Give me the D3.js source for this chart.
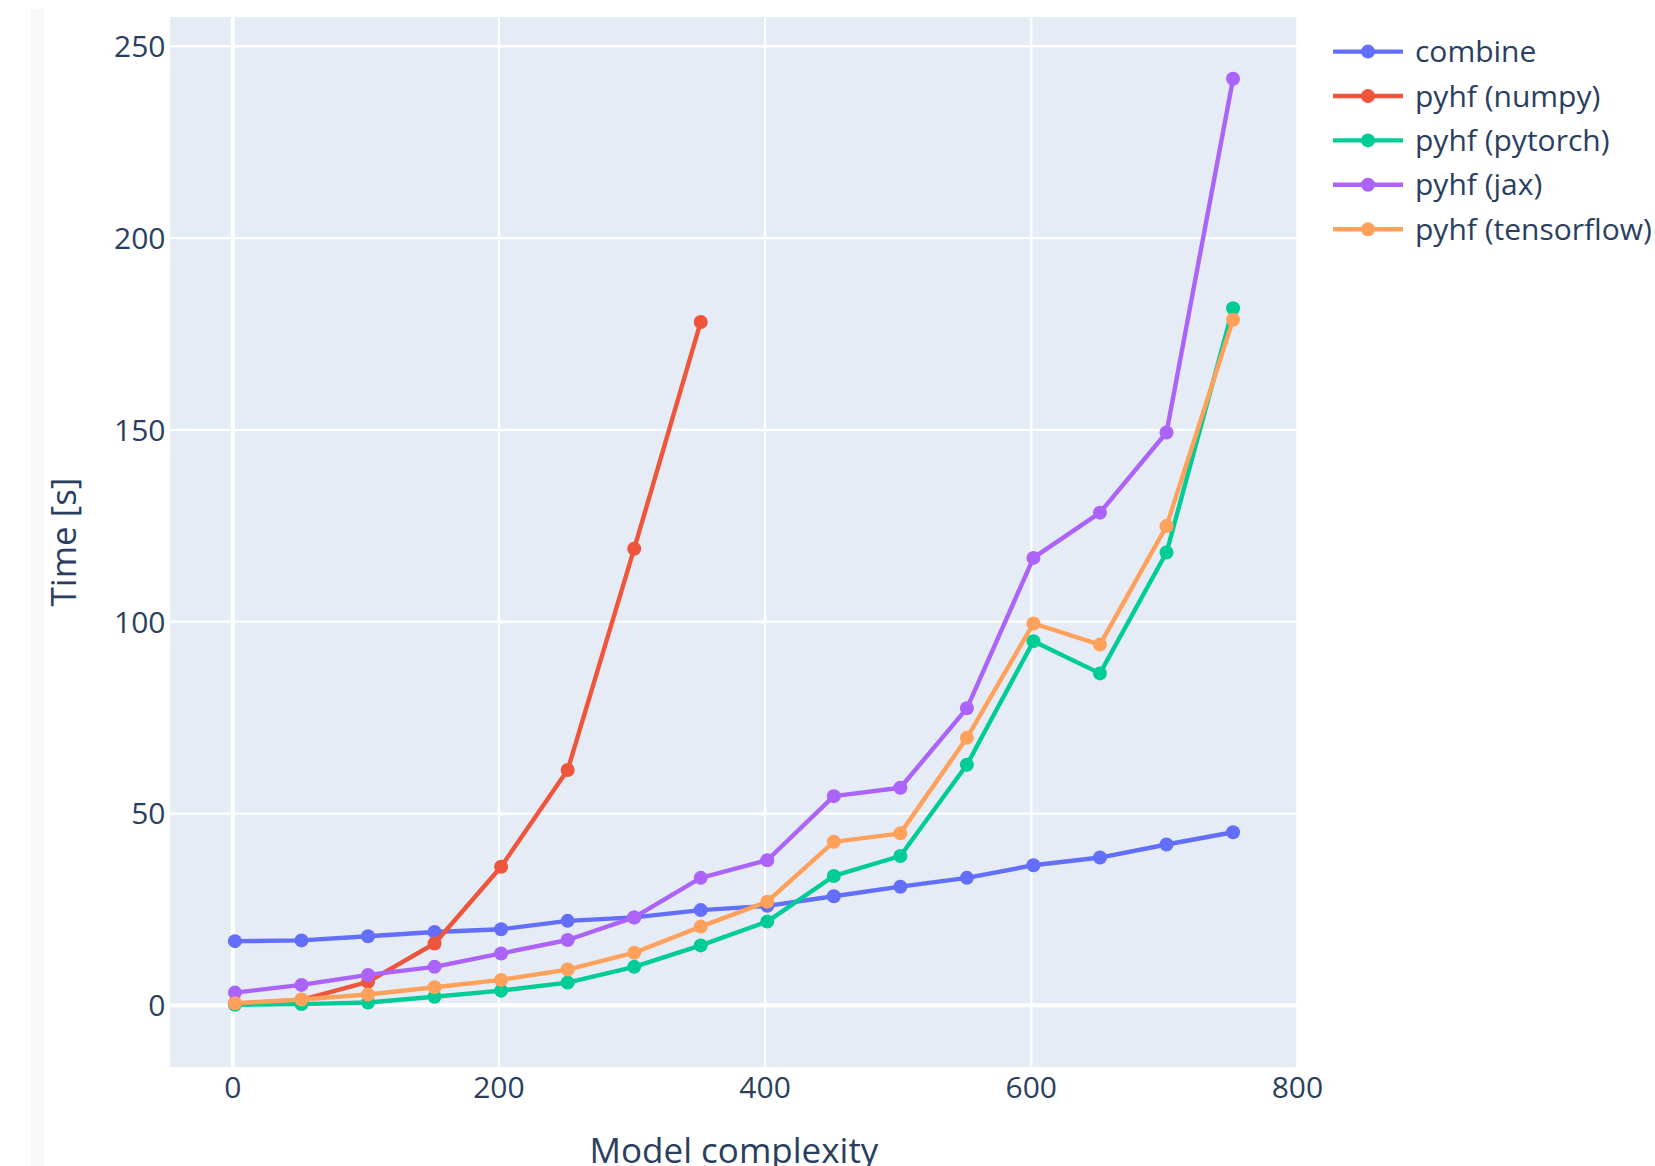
<!DOCTYPE html>
<html>
<head>
<meta charset="utf-8">
<script src="https://cdn.jsdelivr.net/npm/d3@7"></script>
<style>
  html, body { margin: 0; padding: 0; background: #fff; }
  svg { display: block; }
  text { font-family: "Open Sans", verdana, arial, sans-serif; fill: #2a3f5f; }
</style>
</head>
<body>
<svg id="chart" width="1655" height="1166"></svg>
<script>
// Benchmark: fit time versus model complexity for each backend
const complexity = [2, 52, 102, 152, 202, 252, 302, 352, 402, 452, 502, 552, 602, 652, 702, 752];
const combineTimes    = [16.6, 16.8, 17.9, 19.0, 19.7, 21.9, 22.8, 24.7, 25.8, 28.3, 30.8, 33.1, 36.4, 38.4, 41.8, 45.0];
const numpyTimes      = [0.3, 1.3, 6.0, 16.0, 36.0, 61.2, 118.9, 178.0];
const pytorchTimes    = [0.0, 0.2, 0.6, 2.1, 3.7, 5.8, 9.9, 15.5, 21.7, 33.6, 38.8, 62.6, 94.8, 86.4, 117.9, 181.6];
const jaxTimes        = [3.2, 5.2, 7.8, 9.9, 13.4, 16.9, 22.8, 33.1, 37.7, 54.4, 56.6, 77.3, 116.5, 128.3, 149.2, 241.4];
const tensorflowTimes = [0.4, 1.4, 2.7, 4.6, 6.5, 9.2, 13.6, 20.4, 26.9, 42.5, 44.7, 69.6, 99.4, 93.9, 124.8, 178.6];

const seriesNames  = ["combine", "pyhf (numpy)", "pyhf (pytorch)", "pyhf (jax)", "pyhf (tensorflow)"];
const seriesValues = [combineTimes, numpyTimes, pytorchTimes, jaxTimes, tensorflowTimes];
const seriesColors = ["#636efa", "#EF553B", "#00cc96", "#ab63fa", "#FFA15A"];

const xTicks = [0, 200, 400, 600, 800];
const yTicks = [0, 50, 100, 150, 200, 250];
const xTitle = "Model complexity";
const yTitle = "Time [s]";

// Layout
const plot = { left: 170, right: 1298, top: 17, bottom: 1067 };
const fontSize = 30, titleSize = 35;
const lineWidth = 4.4, markerR = 7;

const svg = d3.select("#chart");

// faint strip at the left edge of the page
svg.append("rect").attr("x", 31).attr("y", 9).attr("width", 13).attr("height", 1157).attr("fill", "#f8f8f8");

const x = d3.scaleLinear().domain([-46.8, 800.8]).range([plot.left, plot.right]);
const y = d3.scaleLinear().domain([-16.2, 257.5]).range([plot.bottom, plot.top]);

// plot background
svg.append("rect")
  .attr("x", plot.left).attr("y", plot.top)
  .attr("width", plot.right - plot.left).attr("height", plot.bottom - plot.top)
  .attr("fill", "#E5ECF6");

// gridlines (zero lines drawn heavier)
const gx = svg.append("g").attr("transform", `translate(0,${plot.bottom})`)
  .call(d3.axisBottom(x).tickValues(xTicks).tickSize(-(plot.bottom - plot.top)).tickFormat(""));
gx.select(".domain").remove();
gx.selectAll("line").attr("stroke", "#fff").attr("stroke-width", d => d === 0 ? 4 : 2.3);

const gy = svg.append("g").attr("transform", `translate(${plot.left},0)`)
  .call(d3.axisLeft(y).tickValues(yTicks).tickSize(-(plot.right - plot.left)).tickFormat(""));
gy.select(".domain").remove();
gy.selectAll("line").attr("stroke", "#fff").attr("stroke-width", d => d === 0 ? 4 : 2.3);

// tick labels
const ax = svg.append("g").attr("transform", `translate(0,${plot.bottom})`)
  .call(d3.axisBottom(x).tickValues(xTicks).tickSize(0).tickPadding(0).tickFormat(d3.format("d")));
ax.select(".domain").remove();
ax.selectAll("text").attr("font-size", fontSize).attr("font-family", null)
  .attr("fill", "#2a3f5f").attr("dy", null).attr("y", 30.5);

const ay = svg.append("g").attr("transform", `translate(${plot.left},0)`)
  .call(d3.axisLeft(y).tickValues(yTicks).tickSize(0).tickPadding(4.5).tickFormat(d3.format("d")));
ay.select(".domain").remove();
ay.selectAll("text").attr("font-size", fontSize).attr("font-family", null)
  .attr("fill", "#2a3f5f").attr("dy", "0.36em");

// axis titles
svg.append("text")
  .attr("x", (plot.left + plot.right) / 2).attr("y", 1163)
  .attr("text-anchor", "middle").attr("font-size", titleSize)
  .text(xTitle);
svg.append("text")
  .attr("transform", `translate(76,${(plot.top + plot.bottom) / 2}) rotate(-90)`)
  .attr("text-anchor", "middle").attr("font-size", titleSize)
  .text(yTitle);

// traces
svg.append("clipPath").attr("id", "plotclip")
  .append("rect").attr("x", plot.left).attr("y", plot.top)
  .attr("width", plot.right - plot.left).attr("height", plot.bottom - plot.top);

const line = d3.line().x(d => x(d[0])).y(d => y(d[1]));
const traces = svg.append("g").attr("clip-path", "url(#plotclip)");

seriesValues.forEach((vals, i) => {
  const pts = vals.map((v, j) => [complexity[j], v]);
  const g = traces.append("g");
  g.append("path").datum(pts)
    .attr("d", line).attr("fill", "none")
    .attr("stroke", seriesColors[i]).attr("stroke-width", lineWidth)
    .attr("stroke-linejoin", "round");
  g.selectAll("circle").data(pts).join("circle")
    .attr("cx", d => x(d[0])).attr("cy", d => y(d[1]))
    .attr("r", markerR).attr("fill", seriesColors[i]);
});

// legend
const legend = svg.append("g").attr("transform", "translate(1333,51.6)");
seriesNames.forEach((name, i) => {
  const row = legend.append("g").attr("transform", `translate(0,${i * 44.4})`);
  row.append("line").attr("x1", 0).attr("x2", 70).attr("y1", 0).attr("y2", 0)
    .attr("stroke", seriesColors[i]).attr("stroke-width", lineWidth);
  row.append("circle").attr("cx", 35).attr("cy", 0).attr("r", markerR).attr("fill", seriesColors[i]);
  row.append("text").attr("x", 82).attr("y", 10.5).attr("font-size", fontSize).text(name);
});
</script>
</body>
</html>
